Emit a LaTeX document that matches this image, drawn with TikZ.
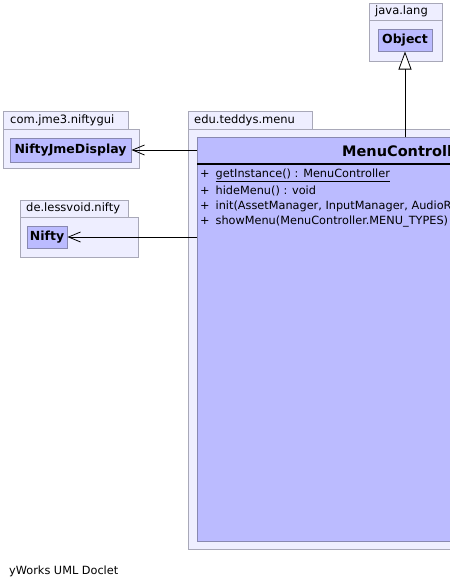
\documentclass[tikz,border=0pt]{standalone}
\usepackage{fontspec}
\setmainfont{DejaVu Sans}
\usetikzlibrary{arrows.meta}
\definecolor{pkgfill}{HTML}{EEEEFF}
\definecolor{pkgline}{HTML}{A8A8B8}
\definecolor{clsfill}{HTML}{BBBBFF}
\definecolor{clsline}{HTML}{8888B0}
\tikzset{
  pkg/.style={draw=pkgline, fill=pkgfill, line width=1pt},
  cls/.style={draw=clsline, fill=clsfill, line width=1pt},
  txt/.style={inner sep=0pt, font=\fontsize{11.3}{12}\selectfont},
  ptxt/.style={inner sep=0pt, font=\fontsize{11.5}{12}\selectfont},
  cname/.style={cls, inner sep=0pt, font=\fontsize{12.5}{13}\selectfont\bfseries},
  dep/.style={draw=black, line width=0.8pt, -{Straight Barb[length=12pt,width=10pt]}},
  inh/.style={draw=black, line width=0.8pt, -{Triangle[open,length=18pt,width=13pt,fill=white]}}
}
\begin{document}
\begin{tikzpicture}[x=1pt,y=-1pt]
\useasboundingbox (0,0) rectangle (450,587);
\clip (0,0) rectangle (450,587);
% java.lang
\draw[pkg] (369,3) rectangle (442,20);
\draw[pkg] (369,20) rectangle (442,61);
\node[ptxt, anchor=west] (pjl) at (375,11.5) {java.lang};
\node[cname, minimum width=54pt, minimum height=22pt] (obj) at (405,40) {Object};
% com.jme3.niftygui
\draw[pkg] (3,111) rectangle (128,129);
\draw[pkg] (3,129) rectangle (139,168);
\node[ptxt, anchor=west] (pcj) at (10,120) {com.jme3.niftygui};
\node[cname, minimum width=121pt, minimum height=24pt] (njd) at (70.5,150) {NiftyJmeDisplay};
% de.lessvoid.nifty
\draw[pkg] (20,200) rectangle (128,217);
\draw[pkg] (20,217) rectangle (138,257);
\node[ptxt, anchor=west] (pdl) at (26,208.5) {de.lessvoid.nifty};
\node[cname, minimum width=40pt, minimum height=22pt] (nifty) at (47,237) {Nifty};
% edu.teddys.menu
\draw[pkg] (188,111) rectangle (312,129);
\draw[pkg] (188,129) rectangle (470,549);
\node[ptxt, anchor=west] (pet) at (194,120) {edu.teddys.menu};
\draw[cls] (197,137) rectangle (480,541);
\coordinate (mcw) at (197,150);
\coordinate (mcw2) at (197,237);
\coordinate (mctop) at (405,137);
\node[inner sep=0pt, anchor=west, font=\fontsize{14.5}{15}\selectfont\bfseries] (mc) at (342,151) {MenuController};
\draw[black, line width=2pt] (197,164) -- (480,164);
\node[txt, anchor=west] (m1) at (200,175) {+\hspace{6pt}\underline{getInstance() : MenuController}};
\node[txt, anchor=west] (m2) at (200,190.5) {+\hspace{6pt}hideMenu() : void};
\node[txt, anchor=west] (m3) at (200,206) {+\hspace{6pt}init(AssetManager, InputManager, AudioRenderer)};
\node[txt, anchor=west] (m4) at (200,221.5) {+\hspace{6pt}showMenu(MenuController.MENU\_TYPES) : void};
% connectors
\draw[inh] (mctop) -- (obj.south);
\draw[dep] (mcw) -- (njd.east);
\draw[dep] (mcw2) -- (nifty.east);
% footer
\node[txt, anchor=west] (foot) at (9,571) {yWorks UML Doclet};
\end{tikzpicture}
\end{document}
